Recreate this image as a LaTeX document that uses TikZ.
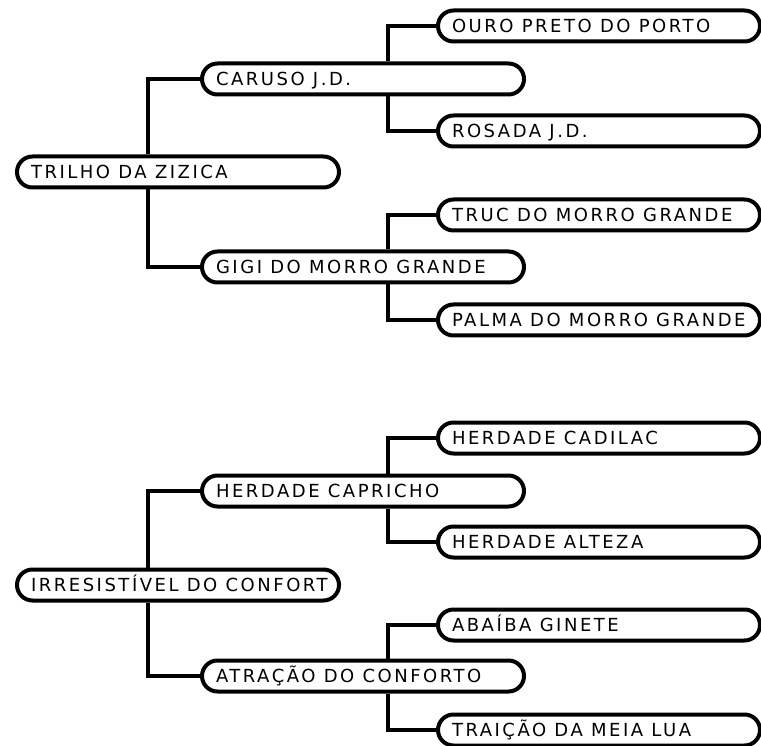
\documentclass[tikz,border=0pt]{standalone}
\usepackage{fontspec}
\setmainfont{DejaVu Sans}[LetterSpace=14]
\tikzset{
  box/.style={draw, line width=4pt, fill=white, rounded corners=15.5pt,
    minimum width=322pt, minimum height=31pt, inner xsep=14pt, inner ysep=0pt,
    text height=13.1pt, text depth=0pt, font=\fontsize{18}{21}\selectfont,
    execute at begin node={\hbox to 294pt\bgroup},
    execute at end node={\hss\egroup}},
  link/.style={line width=4pt}
}
\begin{document}
\begin{tikzpicture}[x=1pt,y=-1pt]
      \useasboundingbox (0,0) rectangle (761,746);
      \path
        (178,172) node[box] (0){TRILHO DA ZIZICA}
        (363,79) node[box] (1){CARUSO J.D.}
        (599,26) node[box] (2){OURO PRETO DO PORTO}
        (599,131) node[box] (3){ROSADA J.D.}
        (363,267) node[box] (4){GIGI DO MORRO GRANDE}
        (599,215) node[box] (5){TRUC DO MORRO GRANDE}
        (599,320) node[box] (6){PALMA DO MORRO GRANDE}
        (178,585) node[box] (7){IRRESISTÍVEL DO CONFORT}
        (363,491) node[box] (8){HERDADE CAPRICHO}
        (599,438) node[box] (9){HERDADE CADILAC}
        (599,542) node[box] (10){HERDADE ALTEZA}
        (363,676) node[box] (11){ATRAÇÃO DO CONFORTO}
        (599,625) node[box] (12){ABAÍBA GINETE}
        (599,730) node[box] (13){TRAIÇÃO DA MEIA LUA};
      \begin{scope}[link]
        \draw ([xshift=-52pt]1.west |- 0.north) |- (1.west);
        \draw ([xshift=-52pt]4.west |- 0.south) |- (4.west);
        \draw ([xshift=-48pt]2.west |- 1.north) |- (2.west);
        \draw ([xshift=-48pt]3.west |- 1.south) |- (3.west);
        \draw ([xshift=-48pt]5.west |- 4.north) |- (5.west);
        \draw ([xshift=-48pt]6.west |- 4.south) |- (6.west);
        \draw ([xshift=-52pt]8.west |- 7.north) |- (8.west);
        \draw ([xshift=-52pt]11.west |- 7.south) |- (11.west);
        \draw ([xshift=-48pt]9.west |- 8.north) |- (9.west);
        \draw ([xshift=-48pt]10.west |- 8.south) |- (10.west);
        \draw ([xshift=-48pt]12.west |- 11.north) |- (12.west);
        \draw ([xshift=-48pt]13.west |- 11.south) |- (13.west);
      \end{scope}
    \end{tikzpicture}
\end{document}
